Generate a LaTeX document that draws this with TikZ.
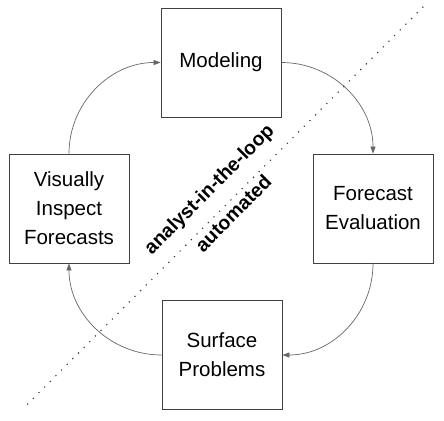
\documentclass[tikz,border=0pt]{standalone}
\usepackage{fontspec}
\setmainfont{Liberation Sans}
\usepackage{xcolor}
\usepackage{tikz}
\usetikzlibrary{arrows.meta}

\begin{document}
\begin{tikzpicture}[x=1pt, y=-1pt]
    \tikzset{
        prozess/.style={draw=black!75, line width=0.8pt, minimum width=120pt, minimum height=109pt,
            align=center, inner sep=0pt, font=\fontsize{20.5}{29}\selectfont},
        pfeil/.style={draw=black!60, line width=0.7pt, -{Triangle[length=7pt, width=5pt]}},
        trennlinie/.style={draw=black!80, line width=1.6pt, line cap=round, dash pattern=on 0pt off 8pt},
        bereich/.style={font=\fontsize{19.5}{20}\selectfont\bfseries, inner sep=0pt}
    }
    \useasboundingbox (0,0) rectangle (444,420);

    % --- Schritte ---
    \node[prozess] (modeling)   at (221,62.5)  {Modeling};
    \node[prozess] (evaluation) at (373,208.5) {Forecast\\Evaluation};
    \node[prozess] (surface)    at (222,355)   {Surface\\Problems};
    \node[prozess] (inspect)    at (69,208.5)  {Visually\\Inspect\\Forecasts};

    % --- Kreislauf ---
    \draw[pfeil] (modeling.east) to[out=0, in=90] (evaluation.north);
    \draw[pfeil] (evaluation.south) to[out=-90, in=0] (surface.east);
    \draw[pfeil] (surface.west) to[out=180, in=-90] (inspect.south);
    \draw[pfeil] (inspect.north) to[out=90, in=180] (modeling.west);

    % --- Trennlinie ---
    \coordinate (unten) at (27.7,404);
    \coordinate (oben)  at (423,7);
    \draw[trennlinie] (unten) -- (oben)
        node[bereich, pos=0.5, sloped, above=12pt] (analyst) {analyst-in-the-loop}
        node[bereich, pos=0.5, sloped, below=3pt] (auto) {automated};
\end{tikzpicture}
\end{document}
